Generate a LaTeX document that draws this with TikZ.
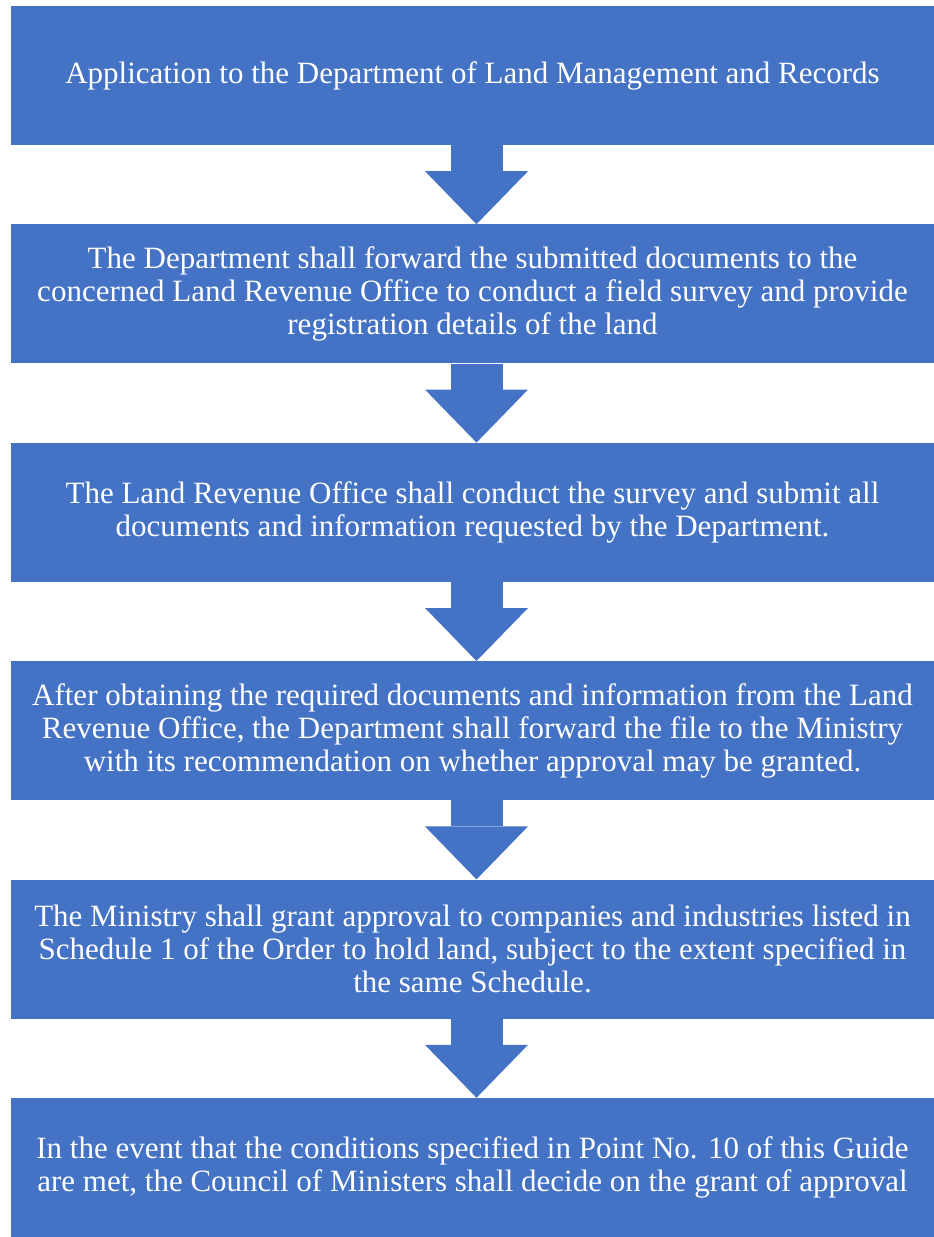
\documentclass[tikz,border=0pt]{standalone}
\usepackage{fontspec}
\setmainfont{Liberation Serif}
\usetikzlibrary{positioning,arrows.meta}
\definecolor{stepblue}{HTML}{4472C4}

\begin{document}
\begin{tikzpicture}[x=1pt,y=1pt,
   stepbox/.style={fill=stepblue,draw=none,text=white,align=center,
      minimum width=923pt,minimum height=139pt,inner sep=0pt,
      font=\fontsize{31}{33}\selectfont},
   node distance=79pt,
   flow/.style={stepblue,line width=52pt,
      -{Triangle[width=103pt,length=53pt,line width=0pt]}}]

\useasboundingbox (0,0) rectangle (934,-1237);

\node[stepbox] (apply) at (472.5,-75.5)
   {Application to the Department of Land Management and Records};
\node[stepbox,below=of apply] (forward)
   {The Department shall forward the submitted documents to the\\
    concerned Land Revenue Office to conduct a field survey and provide\\
    registration details of the land};
\node[stepbox,below=of forward] (survey)
   {The Land Revenue Office shall conduct the survey and submit all\\
    documents and information requested by the Department.};
\node[stepbox,below=of survey] (recommend)
   {After obtaining the required documents and information from the Land\\
    Revenue Office, the Department shall forward the file to the Ministry\\
    with its recommendation on whether approval may be granted.};
\node[stepbox,below=of recommend] (ministry)
   {The Ministry shall grant approval to companies and industries listed in\\
    Schedule 1 of the Order to hold land, subject to the extent specified in\\
    the same Schedule.};
\node[stepbox,below=of ministry] (council)
   {In the event that the conditions specified in Point No. 10 of this Guide\\
    are met, the Council of Ministers shall decide on the grant of approval};

\foreach \a/\b in {apply/forward,forward/survey,survey/recommend,
                   recommend/ministry,ministry/council}
   \draw[flow] ([xshift=4pt]\a.south) -- ([xshift=4pt]\b.north);
\end{tikzpicture}
\end{document}
